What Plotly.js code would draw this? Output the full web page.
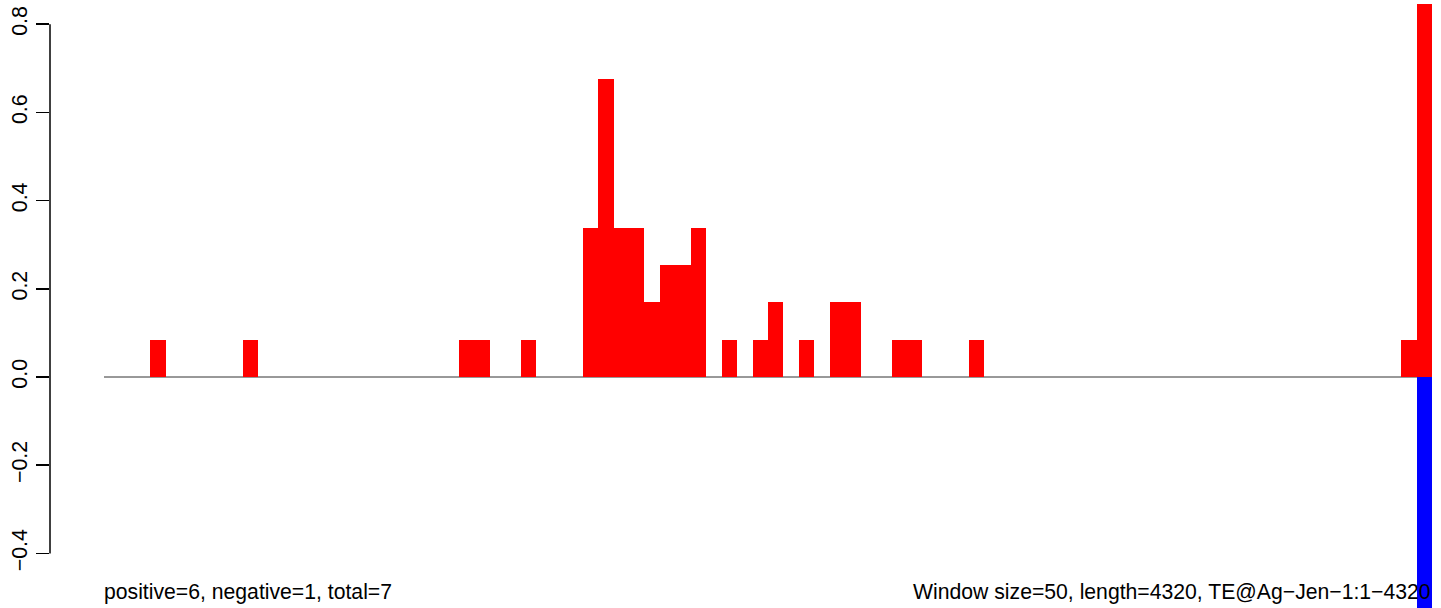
<!DOCTYPE html>
<html>
<head>
<meta charset="utf-8">
<script src="https://cdn.plot.ly/plotly-3.0.1.min.js"></script>
<style>
html,body{margin:0;padding:0;background:#fff;}
#chart{width:1441px;height:608px;}
</style>
</head>
<body>
<div id="chart"></div>
<script>
// window index (window size 50 bp over 4320 bp -> 86 windows, 0-based)
const posWindows = [3, 9, 23, 24, 27, 31, 32, 33, 34, 35, 36, 37, 38, 40, 42, 43, 45, 47, 48, 51, 52, 56, 84, 85];
const posValues  = [0.0845, 0.0845, 0.0845, 0.0845, 0.0845, 0.338, 0.676, 0.338, 0.338, 0.169, 0.2535, 0.2535, 0.338, 0.0845, 0.0845, 0.169, 0.0845, 0.169, 0.169, 0.0845, 0.0845, 0.0845, 0.0845, 0.845];
const negWindows = [85];
const negValues  = [-0.56];
const nWindows = 86;

const yTickVals = [-0.4, -0.2, 0.0, 0.2, 0.4, 0.6, 0.8];
const yTickText = ['\u22120.4', '\u22120.2', '0.0', '0.2', '0.4', '0.6', '0.8'];

const leftLabel = 'positive=6, negative=1, total=7';
const rightLabel = 'Window size=50, length=4320, TE@Ag\u2212Jen\u22121:1\u22124320';

const FONT = '"Liberation Sans", Arial, Helvetica, sans-serif';
const FS = 21.2;

const traces = [
  {type: 'bar', x: posWindows, y: posValues, width: 1,
   marker: {color: '#FF0000', line: {width: 0}}, hoverinfo: 'none'},
  {type: 'bar', x: negWindows, y: negValues, width: 1,
   marker: {color: '#0000FF', line: {width: 0}}, hoverinfo: 'none'}
];

const layout = {
  width: 1441, height: 608,
  margin: {l: 50, r: 9, t: 0, b: 0, pad: 0},
  paper_bgcolor: '#ffffff', plot_bgcolor: '#ffffff',
  showlegend: false,
  barmode: 'relative',
  bargap: 0,
  font: {family: FONT, size: FS, color: '#000'},
  xaxis: {
    range: [-0.5 - 54 / 15.44, nWindows - 0.5],
    visible: false, showgrid: false, zeroline: false, fixedrange: true
  },
  yaxis: {
    range: [-(608 - 377) / 441, 377 / 441],
    tickmode: 'array', tickvals: yTickVals, ticktext: yTickText,
    ticks: 'outside', ticklen: 13, tickwidth: 1.5, tickcolor: '#000',
    tickangle: -90,
    tickfont: {family: FONT, size: 21.4, color: '#000'},
    showgrid: false, zeroline: false, showline: false, fixedrange: true
  },
  shapes: [
    {type: 'line', xref: 'paper', yref: 'y', x0: 0, x1: 0, y0: -0.4, y1: 0.8,
     line: {color: '#000', width: 1.5}},
    {type: 'line', xref: 'x', yref: 'y', x0: -0.5, x1: nWindows - 0.5, y0: 0, y1: 0,
     line: {color: '#333', width: 1}, layer: 'below'}
  ],
  annotations: [
    {text: leftLabel, xref: 'x', yref: 'paper', x: -0.5, y: 0, xanchor: 'left', yanchor: 'bottom',
     yshift: 3, xshift: -1, borderpad: 0, showarrow: false, font: {family: FONT, size: FS, color: '#000'}},
    {text: rightLabel, xref: 'x', yref: 'paper', x: nWindows - 0.5, y: 0, xanchor: 'right', yanchor: 'bottom',
     yshift: 3, borderpad: 0, showarrow: false, font: {family: FONT, size: FS, color: '#000'}}
  ]
};

Plotly.newPlot('chart', traces, layout, {staticPlot: true, displayModeBar: false});
</script>
</body>
</html>
